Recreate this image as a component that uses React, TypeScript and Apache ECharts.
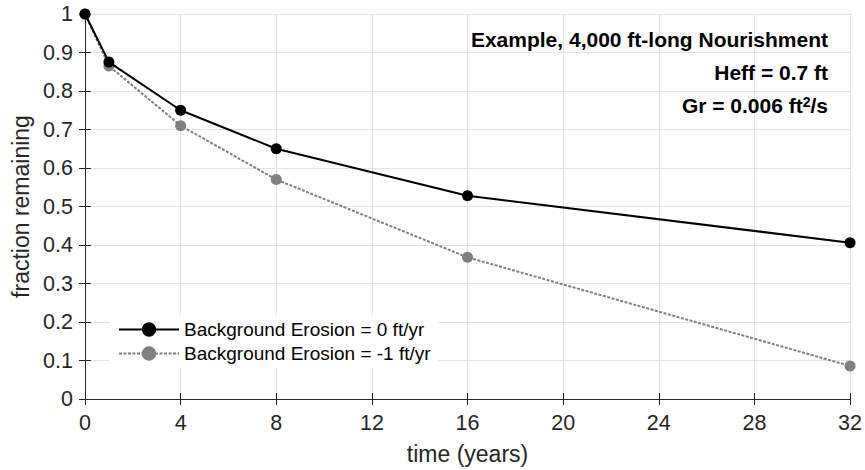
import React, { useEffect, useRef } from "react";
import * as echarts from "echarts";

const times = [0, 1, 4, 8, 16, 32];
const erosion0 = [1.0, 0.875, 0.75, 0.65, 0.528, 0.406];
const erosion1 = [1.0, 0.865, 0.71, 0.57, 0.368, 0.086];
const seriesNames = ["Background Erosion = 0 ft/yr", "Background Erosion = -1 ft/yr"];
const xTicks = [0, 4, 8, 12, 16, 20, 24, 28, 32];
const yTicks = [0, 0.1, 0.2, 0.3, 0.4, 0.5, 0.6, 0.7, 0.8, 0.9, 1];
const annotationLines = ["Example, 4,000 ft-long Nourishment", "Heff = 0.7 ft", "Gr = 0.006 ft{sup|2}/s"];

const FONT = "'Liberation Sans', Arial, Helvetica, sans-serif";
const AXIS = "#262626";
const GRID = "#e3e3e3";

export default function App() {
  const ref = useRef<HTMLDivElement>(null);
  useEffect(() => {
    document.body.style.margin = "0";
    if (!ref.current) return;
    const chart = echarts.init(ref.current, undefined, { renderer: "svg" });
    const axisLine = { show: true, lineStyle: { color: AXIS, width: 1 } };
    const tickStyle = { show: true, inside: true, length: 6, lineStyle: { color: AXIS } };
    chart.setOption({
      animation: false,
      backgroundColor: "#ffffff",
      textStyle: { fontFamily: FONT },
      grid: { left: 85, right: 13, top: 14, bottom: 71, containLabel: false },
      legend: {
        left: 110,
        top: 315,
        orient: "vertical",
        backgroundColor: "#ffffff",
        padding: [5, 8, 5, 8],
        itemGap: 5,
        itemWidth: 60,
        itemHeight: 18,
        textStyle: { fontFamily: FONT, fontSize: 19, color: "#000" },
        data: seriesNames,
      },
      xAxis: [
        {
          type: "value",
          min: 0,
          max: 32,
          interval: 4,
          name: "time (years)",
          nameLocation: "middle",
          nameGap: 43,
          nameTextStyle: { fontFamily: FONT, fontSize: 23, color: AXIS },
          axisLine,
          axisTick: tickStyle,
          axisLabel: { fontFamily: FONT, fontSize: 21.5, color: AXIS, margin: 13, formatter: (v: number) => (xTicks.includes(v) ? String(v) : "") },
          splitLine: { show: true, lineStyle: { color: GRID, width: 1 } },
        },
        {
          type: "value",
          position: "top",
          min: 0,
          max: 32,
          interval: 4,
          axisLine,
          axisTick: tickStyle,
          axisLabel: { show: false },
          splitLine: { show: false },
        },
      ],
      yAxis: [
        {
          type: "value",
          min: 0,
          max: 1,
          interval: 0.1,
          name: "fraction remaining",
          nameLocation: "middle",
          nameGap: 51,
          nameTextStyle: { fontFamily: FONT, fontSize: 23, color: AXIS },
          axisLine,
          axisTick: tickStyle,
          axisLabel: {
            fontFamily: FONT,
            fontSize: 21.5,
            color: AXIS,
            margin: 12,
            formatter: (v: number) => {
              const t = yTicks.find((y) => Math.abs(y - v) < 1e-9);
              return t === undefined ? "" : String(Math.round(t * 10) / 10);
            },
          },
          splitLine: { show: true, lineStyle: { color: GRID, width: 1 } },
        },
        {
          type: "value",
          position: "right",
          min: 0,
          max: 1,
          interval: 0.1,
          axisLine,
          axisTick: tickStyle,
          axisLabel: { show: false },
          splitLine: { show: false },
        },
      ],
      series: [
        {
          name: seriesNames[1],
          type: "line",
          data: times.map((t, i) => [t, erosion1[i]]),
          symbol: "circle",
          symbolSize: 11,
          itemStyle: { color: "#808080" },
          lineStyle: { color: "#808080", width: 2, type: [3, 1.5] },
          z: 2,
        },
        {
          name: seriesNames[0],
          type: "line",
          data: times.map((t, i) => [t, erosion0[i]]),
          symbol: "circle",
          symbolSize: 11,
          itemStyle: { color: "#000000" },
          lineStyle: { color: "#000000", width: 2 },
          z: 3,
        },
      ],
      graphic: annotationLines.map((line, i) => ({
        type: "text",
        right: 37,
        top: 29 + i * 33,
        z: 10,
        style: {
          text: line,
          fontFamily: FONT,
          fontSize: 21,
          fontWeight: "bold",
          fill: "#000",
          textAlign: "right",
          rich: {
            sup: {
              fontFamily: FONT,
              fontSize: 14,
              fontWeight: "bold",
              fill: "#000",
              verticalAlign: "top",
              lineHeight: 14,
              padding: [0, 0, 8, 0],
            },
          },
        },
      })),
    });
    return () => chart.dispose();
  }, []);
  return <div ref={ref} style={{ width: 865, height: 470 }} />;
}
